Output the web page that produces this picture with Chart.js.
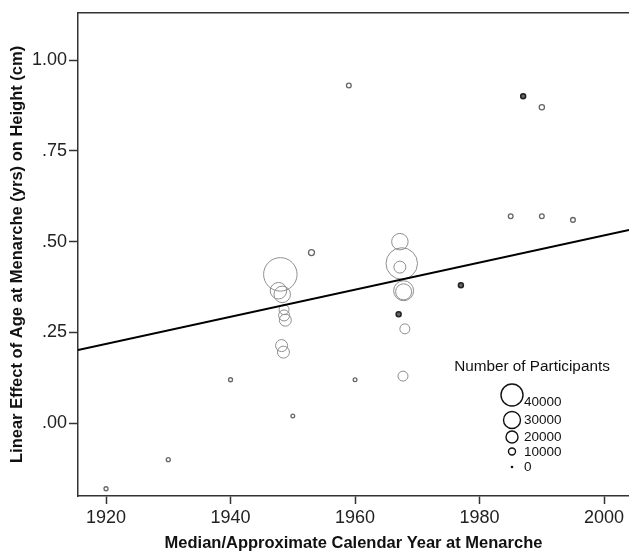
<!DOCTYPE html>
<html>
<head>
<meta charset="utf-8">
<script src="https://cdn.jsdelivr.net/npm/chart.js@4/dist/chart.umd.min.js"></script>
<style>
  html, body { margin: 0; padding: 0; background: #fff; }
  #wrap { width: 629px; height: 555px; }
</style>
</head>
<body>
<div id="wrap"><canvas id="menarcheChart" width="629" height="555"></canvas></div>
<script>
// studies (grey rings): median year at menarche, effect (cm per yr), participants
const studyYear = [1920, 1930, 1940, 1950, 1960, 1953, 1959, 1985, 1990, 1995, 1990,
  1948, 1947.7, 1948.3, 1948.6, 1948.6, 1948.8, 1948.2, 1948.5,
  1967.2, 1967.5, 1967.2, 1967.8, 1967.8, 1968, 1967.7];
const studyEffect = [-0.18, -0.10, 0.12, 0.02, 0.12, 0.47, 0.93, 0.57, 0.57, 0.56, 0.87,
  0.41, 0.365, 0.355, 0.313, 0.297, 0.284, 0.214, 0.196,
  0.50, 0.44, 0.43, 0.365, 0.362, 0.26, 0.13];
const studyN = [4000, 4000, 4000, 3500, 3500, 8000, 5500, 5500, 5500, 5500, 6500,
  63000, 29000, 29000, 16000, 18000, 20000, 20000, 20000,
  29000, 59000, 20000, 36000, 28000, 16000, 16000];

// darker marks
const darkYear = [1987, 1977, 1967];
const darkEffect = [0.90, 0.38, 0.30];
const darkN = [6000, 6000, 6000];

// fitted line, read at the two plot edges
const fitYear = [1915.5, 2004];
const fitEffect = [0.202, 0.532];

const xTicks = [1920, 1940, 1960, 1980, 2000];
const yTicks = [0, 0.25, 0.5, 0.75, 1.0];
const legendN = [40000, 30000, 20000, 10000, 0];

const FONT = "'Liberation Sans', Arial, sans-serif";

function radius(n) {
  return 1 + n / 4000;
}

function toBubbles(xs, ys, ns) {
  return xs.map((x, i) => ({ x: x, y: ys[i], r: radius(ns[i]) }));
}

// top frame line + size legend
const frameAndLegend = {
  id: "frameAndLegend",
  afterDraw(chart) {
    const c = chart.ctx;
    const a = chart.chartArea;
    c.save();
    c.strokeStyle = "#333";
    c.lineWidth = 1.5;
    c.beginPath();
    c.moveTo(a.left, a.top);
    c.lineTo(chart.width, a.top);
    c.stroke();

    c.fillStyle = "#111";
    c.font = "15.3px " + FONT;
    c.textAlign = "center";
    c.textBaseline = "middle";
    c.fillText("Number of Participants", 532, 367);

    const rowY = [395, 420, 437, 451.5, 467];
    const labY = [402, 420, 437, 452, 467];
    c.font = "13.5px " + FONT;
    c.textAlign = "left";
    c.lineWidth = 1.4;
    c.strokeStyle = "#111";
    legendN.forEach((n, i) => {
      c.beginPath();
      if (n === 0) {
        c.arc(512, rowY[i], 1.3, 0, Math.PI * 2);
        c.fill();
      } else {
        c.arc(512, rowY[i], radius(n), 0, Math.PI * 2);
        c.stroke();
      }
      c.fillText(String(n), 524, labY[i]);
    });
    c.restore();
  }
};

const ctx = document.getElementById("menarcheChart");
const chart = new Chart(ctx, {
  type: "bubble",
  data: {
    datasets: [
      {
        type: "line",
        label: "fit",
        data: fitYear.map((x, i) => ({ x: x, y: fitEffect[i] })),
        borderColor: "#000",
        borderWidth: 2,
        pointRadius: 0,
        fill: false,
        order: 0
      },
      {
        label: "studies",
        data: toBubbles(studyYear, studyEffect, studyN),
        backgroundColor: "rgba(0,0,0,0)",
        borderColor: c => (c.raw && c.raw.r < 4 ? "#666" : "#8e8e8e"),
        borderWidth: c => (c.raw && c.raw.r < 4 ? 1.3 : 1),
        hoverRadius: 0,
        order: 1
      },
      {
        label: "dark",
        data: toBubbles(darkYear, darkEffect, darkN),
        backgroundColor: "#666",
        borderColor: "#222",
        borderWidth: 1.5,
        hoverRadius: 0,
        order: 1
      }
    ]
  },
  options: {
    responsive: false,
    animation: false,
    events: [],
    layout: { autoPadding: false, padding: { top: 6, left: 0, right: 0, bottom: 0 } },
    plugins: {
      legend: { display: false },
      tooltip: { enabled: false }
    },
    scales: {
      x: {
        type: "linear",
        min: 1915.5,
        max: 2004,
        afterFit: s => { s.height = 59; },
        afterBuildTicks: s => { s.ticks = xTicks.map(v => ({ value: v })); },
        grid: { drawOnChartArea: false, drawTicks: true, tickLength: 8, tickColor: "#333", tickWidth: 1.5 },
        border: { display: true, color: "#333", width: 1.5 },
        ticks: {
          color: "#222",
          font: { family: FONT, size: 18 },
          padding: 3,
          maxRotation: 0,
          callback: v => String(v)
        },
        title: {
          display: true,
          text: "Median/Approximate Calendar Year at Menarche",
          color: "#111",
          font: { family: FONT, size: 16.5, weight: "bold" },
          padding: { top: 0, bottom: 2 }
        }
      },
      y: {
        type: "linear",
        min: -0.2,
        max: 1.13,
        afterFit: s => { s.width = 78; },
        afterBuildTicks: s => { s.ticks = yTicks.map(v => ({ value: v })); },
        grid: { drawOnChartArea: false, drawTicks: true, tickLength: 9, tickColor: "#333", tickWidth: 1.5 },
        border: { display: true, color: "#333", width: 1.5 },
        ticks: {
          color: "#222",
          font: { family: FONT, size: 18 },
          padding: 2,
          callback: v => v.toFixed(2).replace(/^0/, "")
        },
        title: {
          display: true,
          text: "Linear Effect of Age at Menarche (yrs) on Height (cm)",
          color: "#111",
          font: { family: FONT, size: 16.5, weight: "bold" },
          padding: { top: 7.5, bottom: 0 }
        }
      }
    }
  },
  plugins: [frameAndLegend]
});
</script>
</body>
</html>
